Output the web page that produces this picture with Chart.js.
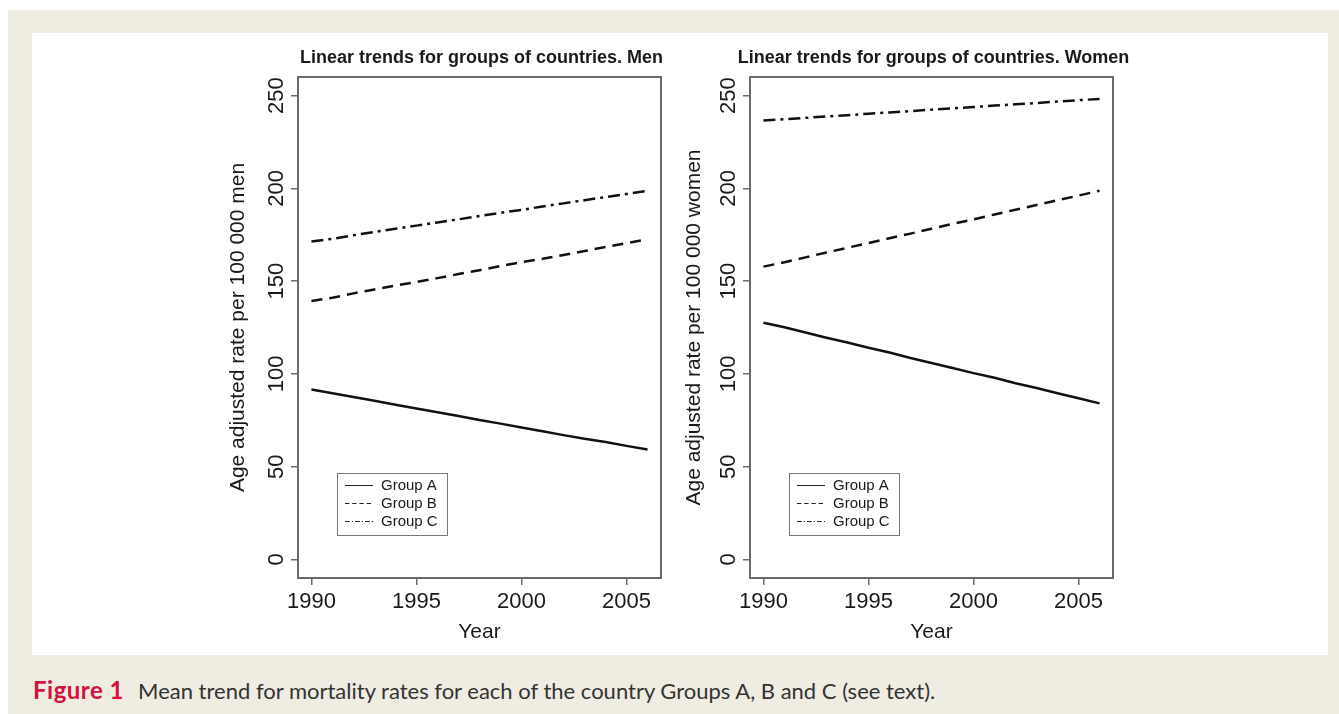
<!DOCTYPE html>
<html>
<head>
<meta charset="utf-8">
<title>Linear trends for groups of countries</title>
<script src="https://cdn.jsdelivr.net/npm/chart.js@4.4.1/dist/chart.umd.min.js"></script>
<style>
  html, body { margin: 0; padding: 0; background: #fff; width: 1339px; height: 714px; overflow: hidden; }
  #sheet { position: absolute; left: 8px; top: 10px; right: 0; bottom: 0; background: #efece1; }
  #panel { position: absolute; left: 32px; top: 33px; width: 1296px; height: 622px; background: #fff; }
  canvas { position: absolute; }
  #men { left: 220px; top: 33px; }
  #women { left: 662px; top: 33px; }
  #caption { position: absolute; left: 33px; top: 675px; font-family: Lato, "Open Sans", sans-serif;
             font-size: 22px; color: #333; white-space: nowrap; }
  #caption b { color: #d3123f; font-size: 24px; letter-spacing: 0.5px; margin-right: 14px; }
</style>
</head>
<body>
<div id="sheet"></div>
<div id="panel"></div>
<canvas id="men" width="442" height="622"></canvas>
<canvas id="women" width="478" height="622"></canvas>
<div id="caption"><b>Figure 1</b>Mean trend for mortality rates for each of the country Groups A, B and C (see text).</div>

<script>
// Yearly fitted rates (age adjusted, per 100 000)
const YEARS = [1990, 1991, 1992, 1993, 1994, 1995, 1996, 1997, 1998, 1999, 2000, 2001, 2002, 2003, 2004, 2005, 2006];

const MEN_A = [91.6, 89.6, 87.5, 85.5, 83.4, 81.4, 79.3, 77.3, 75.2, 73.2, 71.1, 69.1, 67.0, 65.0, 63.3, 61.2, 59.2];
const MEN_B = [139.3, 141.0, 143.4, 145.5, 147.6, 149.5, 151.6, 153.8, 155.9, 158.1, 160.2, 162.0, 164.1, 166.2, 168.4, 170.5, 172.6];
const MEN_C = [171.3, 172.8, 174.7, 176.5, 178.2, 179.9, 181.6, 183.3, 185.1, 186.8, 188.4, 190.2, 191.9, 193.6, 195.3, 197.0, 198.7];

const WOMEN_A = [127.6, 125.1, 122.3, 119.5, 116.9, 114.1, 111.5, 108.6, 105.9, 103.2, 100.4, 97.9, 95.0, 92.4, 89.6, 86.9, 84.1];
const WOMEN_B = [157.8, 160.2, 162.8, 165.4, 168.0, 170.5, 173.1, 175.6, 178.2, 180.8, 183.3, 185.9, 188.5, 191.0, 193.6, 196.1, 198.7];
const WOMEN_C = [236.5, 237.2, 238.0, 238.7, 239.4, 240.2, 240.9, 241.6, 242.4, 243.1, 243.8, 244.6, 245.3, 246.0, 246.8, 247.5, 248.2];

const GROUP_LABELS = ['Group A', 'Group B', 'Group C'];
const YEAR_TICKS = [1990, 1995, 2000, 2005];
const RATE_TICKS = [0, 50, 100, 150, 200, 250];

const FONT = '"Liberation Sans", Arial, Helvetica, sans-serif';
const INK = '#1a1a1a';
const AXIS = '#6a6a6a';
const DASHES = [[], [11, 7], [12, 5, 3, 5]];

// Box, rotated y tick labels, panel title and in-plot legend
const framePlugin = {
  id: 'frame',
  afterDraw(chart, args, opts) {
    const { ctx, chartArea: a, scales } = chart;
    ctx.save();

    ctx.strokeStyle = AXIS;
    ctx.lineWidth = 2;
    ctx.strokeRect(a.left, a.top, a.right - a.left, a.bottom - a.top);

    ctx.fillStyle = INK;
    ctx.font = '22px ' + FONT;
    ctx.textAlign = 'center';
    ctx.textBaseline = 'middle';
    for (const t of scales.y.ticks) {
      const py = scales.y.getPixelForValue(t.value);
      ctx.save();
      ctx.translate(a.left - 21, py);
      ctx.rotate(-Math.PI / 2);
      ctx.fillText(String(t.value), 0, 0);
      ctx.restore();
    }

    ctx.font = 'bold 18px ' + FONT;
    ctx.fillText(opts.title, (a.left + a.right) / 2 + 2, a.top - 19);

    const lx = a.left + 39, ly = a.top + 396;
    ctx.lineWidth = 1;
    ctx.strokeStyle = '#777';
    ctx.strokeRect(lx + 0.5, ly + 0.5, 110, 62);
    ctx.font = '15px ' + FONT;
    ctx.textAlign = 'left';
    chart.data.datasets.forEach((ds, i) => {
      const y = ly + 12.5 + i * 18;
      ctx.strokeStyle = '#222';
      ctx.setLineDash((ds.borderDash || []).map(d => d * 0.4));
      ctx.beginPath();
      ctx.moveTo(lx + 8, y);
      ctx.lineTo(lx + 36, y);
      ctx.stroke();
      ctx.setLineDash([]);
      ctx.fillText(ds.label, lx + 44, y);
    });
    ctx.restore();
  }
};

function makeChart(id, title, yTitle, series, yAxisWidth, rightPad, yTitlePad) {
  const datasets = series.map((values, i) => ({
    label: GROUP_LABELS[i],
    data: YEARS.map((yr, k) => ({ x: yr, y: values[k] })),
    borderColor: '#111',
    borderWidth: 2.5,
    borderDash: DASHES[i],
    pointRadius: 0,
    tension: 0,
    fill: false
  }));

  return new Chart(document.getElementById(id), {
    type: 'line',
    data: { datasets },
    plugins: [framePlugin],
    options: {
      responsive: false,
      animation: false,
      layout: { padding: { left: 0, right: rightPad, top: 44, bottom: 0 } },
      plugins: {
        legend: { display: false },
        tooltip: { enabled: false },
        frame: { title }
      },
      scales: {
        x: {
          type: 'linear',
          min: 1989.36,
          max: 2006.64,
          afterBuildTicks: s => { s.ticks = YEAR_TICKS.map(v => ({ value: v })); },
          afterFit: s => { s.height = 77; },
          ticks: { callback: v => String(v), color: INK, font: { family: FONT, size: 22 }, padding: 4, maxRotation: 0 },
          grid: { display: true, drawOnChartArea: false, drawTicks: true, tickLength: 7, color: AXIS, lineWidth: 1.5 },
          border: { display: false },
          title: { display: true, text: 'Year', color: INK, font: { family: FONT, size: 21 }, padding: { top: 0, bottom: 10 } }
        },
        y: {
          type: 'linear',
          min: -10,
          max: 260,
          afterBuildTicks: s => { s.ticks = RATE_TICKS.map(v => ({ value: v })); },
          afterFit: s => { s.width = yAxisWidth; },
          ticks: { display: false },
          grid: { display: true, drawOnChartArea: false, drawTicks: true, tickLength: 7, color: AXIS, lineWidth: 1.5 },
          border: { display: false },
          title: { display: true, text: yTitle, color: INK, font: { family: FONT, size: 21 }, padding: { top: yTitlePad, bottom: 0 } }
        }
      }
    }
  });
}

makeChart('men', 'Linear trends for groups of countries. Men',
  'Age adjusted rate per 100 000 men', [MEN_A, MEN_B, MEN_C], 78, 1, 6);
makeChart('women', 'Linear trends for groups of countries. Women',
  'Age adjusted rate per 100 000 women', [WOMEN_A, WOMEN_B, WOMEN_C], 88, 27, 20);
</script>
</body>
</html>
